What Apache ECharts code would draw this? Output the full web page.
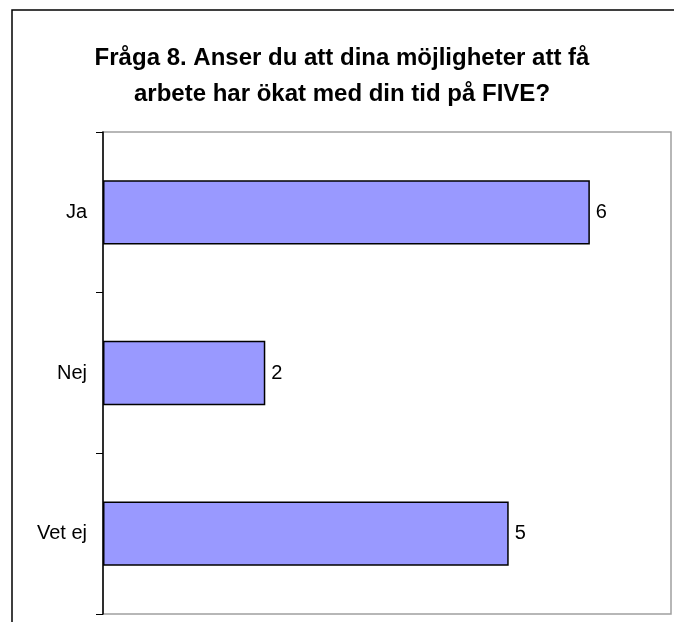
<!DOCTYPE html>
<html>
<head>
<meta charset="utf-8">
<script src="https://cdn.jsdelivr.net/npm/echarts@6/dist/echarts.min.js"></script>
<style>
  html, body { margin: 0; padding: 0; background: #fff; }
  #main { width: 674px; height: 622px; }
</style>
</head>
<body>
<div id="main"></div>
<script>
var categories = ['Ja', 'Nej', 'Vet ej'];
var values = [6, 2, 5];

var myChart = echarts.init(document.getElementById('main'));

var option = {
    backgroundColor: '#ffffff',
    animation: false,
    title: {
        text: 'Fråga 8. Anser du att dina möjligheter att få\narbete har ökat med din tid på FIVE?',
        left: 337,
        top: 35,
        textAlign: 'center',
        textStyle: {
            fontFamily: 'Liberation Sans',
            fontSize: 24,
            fontWeight: 'bold',
            color: '#000',
            lineHeight: 36,
            align: 'center'
        }
    },
    graphic: [
        {
            type: 'rect',
            shape: { x: 12, y: 10, width: 700, height: 700 },
            style: { fill: 'none', stroke: '#000', lineWidth: 1.5 },
            silent: true
        }
    ],
    grid: {
        left: 103,
        top: 132,
        right: 3,
        bottom: 8,
        show: true,
        borderColor: '#a0a0a0',
        borderWidth: 1.5,
        containLabel: false
    },
    xAxis: {
        type: 'value',
        min: 0,
        max: 7,
        show: false,
        splitLine: { show: false }
    },
    yAxis: {
        type: 'category',
        inverse: true,
        data: categories,
        axisLine: { show: true, lineStyle: { color: '#000', width: 1.5 } },
        axisTick: { show: true, length: 7, lineStyle: { color: '#000' } },
        axisLabel: {
            fontFamily: 'Liberation Sans',
            fontSize: 20,
            color: '#000',
            margin: 16
        }
    },
    series: [
        {
            type: 'bar',
            data: values,
            barCategoryGap: '60%',
            itemStyle: {
                color: '#9999ff',
                borderColor: '#000',
                borderWidth: 1.5
            },
            label: {
                show: true,
                position: 'right',
                distance: 6,
                fontFamily: 'Liberation Sans',
                fontSize: 20,
                color: '#000'
            }
        }
    ]
};

myChart.setOption(option);
</script>
</body>
</html>
